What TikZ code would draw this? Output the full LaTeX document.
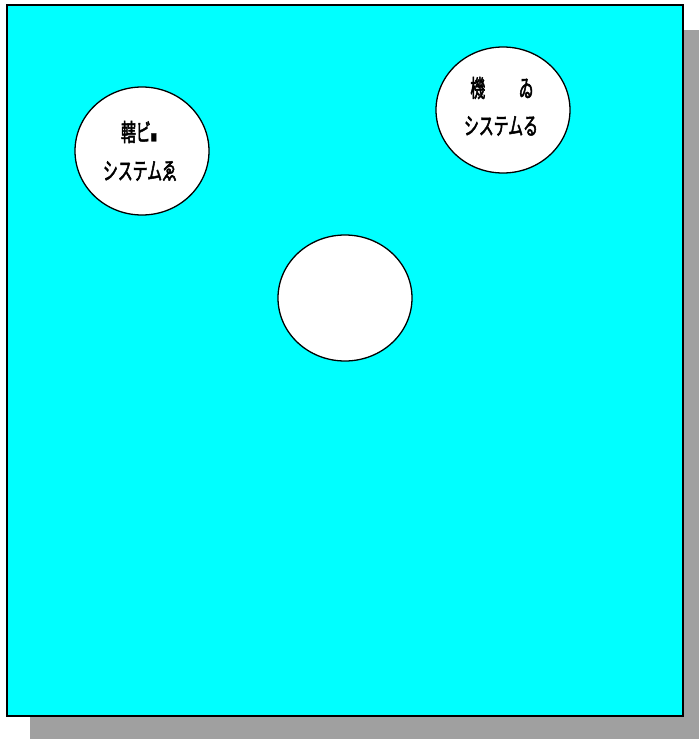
\documentclass[tikz,border=0pt]{standalone}
\usepackage{fontspec}
\newfontfamily\jp[FakeStretch=0.62,FakeBold=2]{Noto Sans CJK JP}
\definecolor{aqua}{RGB}{0,255,255}
\definecolor{shadowgray}{RGB}{160,160,160}
\begin{document}
\begin{tikzpicture}[x=1pt,y=-1pt,
  lbl/.style={font=\jp\fontsize{24}{38}\selectfont,align=center,text=black,inner sep=0pt}]
\useasboundingbox (0,0) rectangle (699,739);
\fill[white] (0,0) rectangle (699,739);
\fill[shadowgray] (30,30) rectangle (699,739);
\draw[fill=aqua,line width=2pt] (7,5) rectangle (683,716);
\draw[line width=1.3pt,fill=white] (142,151) ellipse [x radius=67, y radius=64];
\draw[line width=1.3pt,fill=white] (503,110) ellipse [x radius=67, y radius=63];
\draw[line width=1.3pt,fill=white] (345,298) ellipse [x radius=67, y radius=63];
\node[lbl] (t1a) at (139,132) {轄ビ{\fontsize{10}{10}\selectfont ■}};
\node[lbl] (t1b) at (140,171) {システムゑ};
\node[lbl] (t2a) at (502,88) {機\hspace{1.4em}ゐ};
\node[lbl] (t2b) at (501,126) {システムる};
\end{tikzpicture}
\end{document}
